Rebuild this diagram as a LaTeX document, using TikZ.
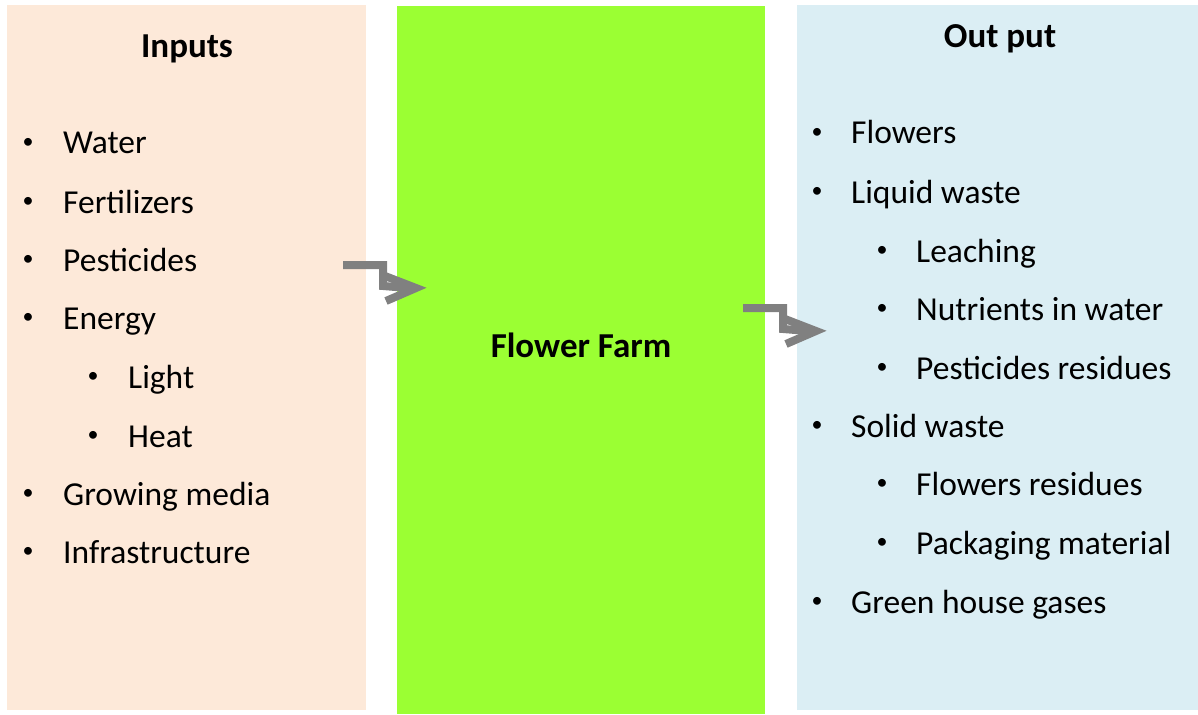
\documentclass[tikz,border=0pt]{standalone}
\usepackage{fontspec}
\setmainfont{Carlito}
\usetikzlibrary{calc}
\definecolor{peach}{HTML}{FDE9D9}
\definecolor{lime}{HTML}{9BFF33}
\definecolor{lblue}{HTML}{DBEEF4}
\definecolor{agray}{HTML}{808080}
\begin{document}
\begin{tikzpicture}[x=1pt,y=-1pt,
  panel/.style={inner sep=0pt, outer sep=0pt},
  title/.style={font=\fontsize{35}{40}\selectfont\bfseries, anchor=base},
  item/.style={font=\fontsize{33.5}{40}\selectfont, anchor=base west, inner sep=0pt},
  bul/.style={font=\fontsize{22}{26}\selectfont, anchor=center, inner sep=0pt},
  arr/.style={draw=agray, line width=8pt, line join=miter}]
\useasboundingbox (0,0) rectangle (1198,714);
\fill[peach] (7,5) rectangle (366,710);
\fill[lime] (397,6) rectangle (765,714);
\fill[lblue] (797,5) rectangle (1198,710);
\node[panel] (inbox) at (186.5,357.5) {};
\node[panel] (farm) at (581,360) {};
\node[panel] (outbox) at (997.5,357.5) {};
\node[title] (tin) at (187,58) {Inputs};
\node[title] (tout) at (1000,48) {Out put};
\node[title] (tfarm) at (581,357) {Flower Farm};
% left list
\foreach \t/\y/\l [count=\i] in {Water/154/0, Fertilizers/213/0, Pesticides/271/0, Energy/329/0, Light/388/1, Heat/447/1, Growing media/505/0, Infrastructure/563/0}{
  \node[bul] (lb\i) at (28+65*\l,\y-11) {\textbullet};
  \node[item] (li\i) at (63+65*\l,\y) {\t};
}
% right list
\foreach \t/\y/\l [count=\i] in {Flowers/144/0, Liquid waste/203/0, Leaching/262/1, Nutrients in water/320/1, Pesticides residues/379/1, Solid waste/437/0, Flowers residues/495/1, Packaging material/554/1, Green house gases/613/0}{
  \node[bul] (rb\i) at (817+65*\l,\y-11) {\textbullet};
  \node[item] (ri\i) at (851+65*\l,\y) {\t};
}
% arrows
\coordinate (s1) at (343,265);
\coordinate (k1) at (383,286);
\coordinate (t1) at (416,288);
\draw[arr] (s1) -| (k1) -- ($(t1)+(-8,0)$);
\draw[arr] ($(t1)+(-31,-12)$) -- (t1) -- ($(t1)+(-30,13)$);
\coordinate (s2) at (743,308);
\coordinate (k2) at (783,329);
\coordinate (t2) at (816,331);
\draw[arr] (s2) -| (k2) -- ($(t2)+(-8,0)$);
\draw[arr] ($(t2)+(-31,-12)$) -- (t2) -- ($(t2)+(-30,13)$);
\end{tikzpicture}
\end{document}
